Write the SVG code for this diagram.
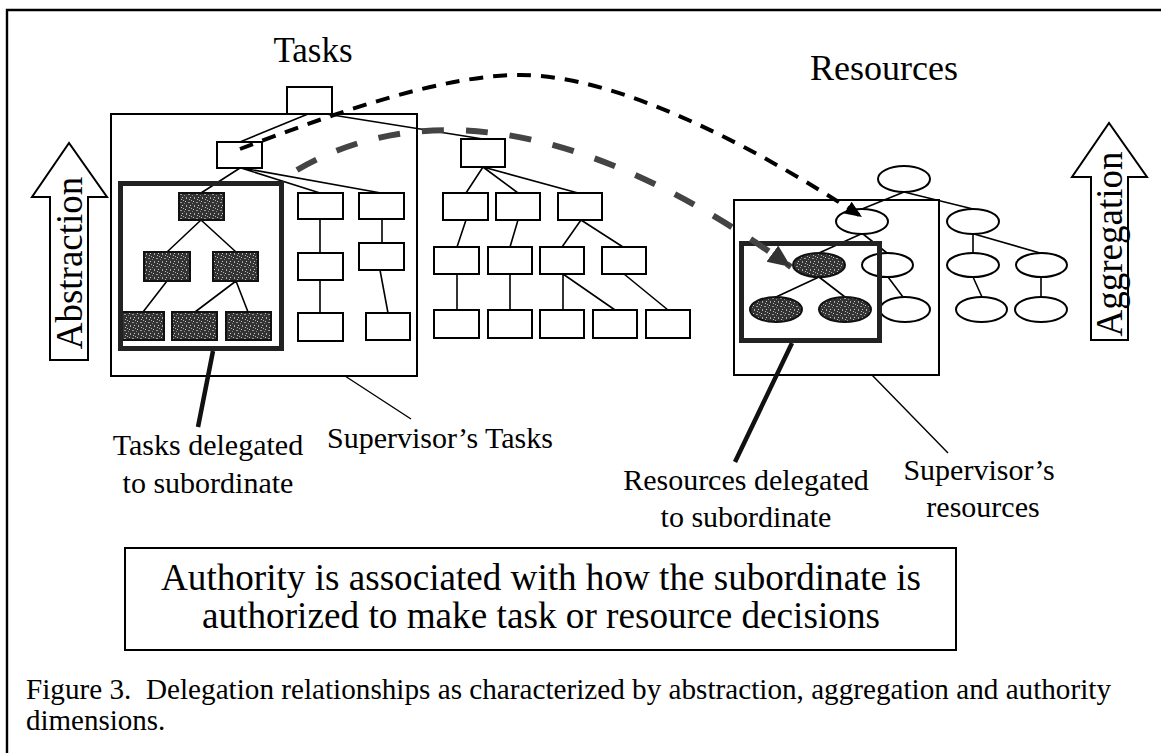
<svg xmlns="http://www.w3.org/2000/svg" width="1161" height="753" viewBox="0 0 1161 753">
<defs>
<style>
.t{font-family:"Liberation Serif","Times New Roman",serif;fill:#000}
.box{fill:#fff;stroke:#000;stroke-width:2}
.cont{fill:none;stroke:#000;stroke-width:2}
.dk{fill:url(#nz);stroke:#111;stroke-width:2}
.frm{fill:none;stroke:#222;stroke-width:5}
.e{stroke:#000;stroke-width:1.6;fill:none}
.lead{stroke:#000;stroke-width:1.4;fill:none}
.leadk{stroke:#111;stroke-width:4.5;fill:none}
</style>
<pattern id="nz" width="8" height="8" patternUnits="userSpaceOnUse">
<rect width="8" height="8" fill="#333"/>
<rect x="1" y="1" width="1" height="1" fill="#c8c8c8"/>
<rect x="4" y="2" width="2" height="1" fill="#9a9a9a"/>
<rect x="6" y="5" width="1" height="1" fill="#d0d0d0"/>
<rect x="2" y="5" width="1" height="2" fill="#a8a8a8"/>
<rect x="5" y="7" width="1" height="1" fill="#bbb"/>
<rect x="0" y="3" width="1" height="1" fill="#888"/>
<rect x="7" y="0" width="1" height="1" fill="#aaa"/>
</pattern>
<marker id="ah1" markerUnits="userSpaceOnUse" markerWidth="18" markerHeight="16" refX="17" refY="8" orient="auto">
<path d="M0,1 L17,8 L0,15 z" fill="#000"/>
</marker>
<marker id="ah2" markerUnits="userSpaceOnUse" markerWidth="24" markerHeight="22" refX="23" refY="11" orient="auto">
<path d="M0,1 L23,11 L0,21 z" fill="#333"/>
</marker>
</defs>
<rect width="1161" height="753" fill="#fff"/>
<g id="outer-frame">
<path d="M7,753 L7,10 L1161,10" fill="none" stroke="#000" stroke-width="2.4"/>
</g>
<g id="titles">
<text class="t" x="313" y="62" font-size="35" text-anchor="middle">Tasks</text>
<text class="t" x="884" y="80" font-size="36" text-anchor="middle">Resources</text>
</g>
<g id="abstraction">
<polygon class="box" points="50,360 50,197 32,197 69,143 107,197 88,197 88,360"/>
<text class="t" font-size="37" text-anchor="middle" transform="translate(82,263) rotate(-90)">Abstraction</text>
</g>
<g id="aggregation">
<polygon class="box" points="1091,340 1091,177 1072,177 1109,123 1147,177 1128,177 1128,340"/>
<text class="t" font-size="37" text-anchor="middle" transform="translate(1122,244) rotate(-90)">Aggregation</text>
</g>
<g id="supervisors-tasks-box"><rect class="cont" x="111" y="114" width="306" height="262"/></g>
<g id="supervisors-resources-box"><rect class="cont" x="734" y="200" width="205" height="175"/></g>
<g id="connectors">
<path class="e" d="M308,114 L240,142 M326,114 L483,139
M240,168 L201,193 M241,168 L320,193 M242,168 L381,193
M201,220 L167,252 M201,220 L236,252 M167,281 L143,312 M236,281 L195,312 M236,281 L248,312
M320,219 L320,253 M320,280 L320,313 M382,219 L382,243 M380,270 L388,313
M483,167 L466,193 M483,167 L518,193 M483,167 L578,193
M466,220 L457,247 M518,220 L510,247 M581,220 L562,247 M581,220 L623,247
M457,274 L457,310 M510,274 L510,310 M563,274 L563,310 M563,274 L615,310 M624,274 L668,310
M904,192 L862,209 M904,192 L973,209 M861,234 L819,253 M863,234 L887,253 M888,277 L903,297
M819,277 L776,297 M819,277 L845,297 M973,234 L973,253 M974,234 L1040,253 M973,277 L982,297 M1041,277 L1041,297"/>
<path class="leadk" d="M213,351 L198,427 M792,343 L735,462"/>
<path class="lead" d="M345,376 L411,419 M872,375 L948,453"/>
</g>
<g id="T0"><rect class="box" x="287" y="87" width="45" height="27"/></g>
<g id="T1"><rect class="box" x="217" y="142" width="45" height="26"/></g>
<g id="D0"><rect class="dk" x="179" y="193" width="45" height="27"/></g>
<g id="D1"><rect class="dk" x="144" y="252" width="46" height="29"/></g>
<g id="D2"><rect class="dk" x="213" y="252" width="45" height="29"/></g>
<g id="D3"><rect class="dk" x="122" y="312" width="42" height="28"/></g>
<g id="D4"><rect class="dk" x="172" y="312" width="45" height="28"/></g>
<g id="D5"><rect class="dk" x="226" y="312" width="45" height="28"/></g>
<g id="S1"><rect class="box" x="298" y="193" width="45" height="26"/></g>
<g id="S2"><rect class="box" x="298" y="253" width="45" height="27"/></g>
<g id="S3"><rect class="box" x="298" y="313" width="45" height="28"/></g>
<g id="S4"><rect class="box" x="359" y="193" width="45" height="26"/></g>
<g id="S5"><rect class="box" x="359" y="243" width="45" height="27"/></g>
<g id="S6"><rect class="box" x="366" y="313" width="44" height="27"/></g>
<g id="M0"><rect class="box" x="461" y="139" width="44" height="28"/></g>
<g id="M1"><rect class="box" x="443" y="193" width="45" height="27"/></g>
<g id="M2"><rect class="box" x="496" y="193" width="44" height="27"/></g>
<g id="M3"><rect class="box" x="558" y="193" width="44" height="27"/></g>
<g id="M4"><rect class="box" x="434" y="247" width="45" height="27"/></g>
<g id="M5"><rect class="box" x="488" y="247" width="44" height="27"/></g>
<g id="M6"><rect class="box" x="540" y="247" width="44" height="27"/></g>
<g id="M7"><rect class="box" x="602" y="247" width="44" height="27"/></g>
<g id="M8"><rect class="box" x="434" y="310" width="45" height="28"/></g>
<g id="M9"><rect class="box" x="488" y="310" width="44" height="28"/></g>
<g id="M10"><rect class="box" x="540" y="310" width="44" height="28"/></g>
<g id="M11"><rect class="box" x="593" y="310" width="44" height="28"/></g>
<g id="M12"><rect class="box" x="646" y="310" width="44" height="28"/></g>
<g id="R0"><ellipse class="box" cx="904" cy="179" rx="26" ry="13"/></g>
<g id="R1"><ellipse class="box" cx="862" cy="221.5" rx="26" ry="12.5"/></g>
<g id="R2"><ellipse class="box" cx="973" cy="221.5" rx="26" ry="12.5"/></g>
<g id="R3"><ellipse class="box" cx="887.5" cy="265" rx="25.5" ry="12"/></g>
<g id="R4"><ellipse class="box" cx="905" cy="309.5" rx="25" ry="12.5"/></g>
<g id="R5"><ellipse class="box" cx="973" cy="265" rx="26" ry="12"/></g>
<g id="R6"><ellipse class="box" cx="1041.5" cy="265" rx="25.5" ry="12"/></g>
<g id="R7"><ellipse class="box" cx="981.5" cy="309.5" rx="25.5" ry="12.5"/></g>
<g id="R8"><ellipse class="box" cx="1041" cy="309.5" rx="26" ry="12.5"/></g>
<g id="RD0"><ellipse class="dk" cx="819" cy="265" rx="26" ry="12"/></g>
<g id="RD1"><ellipse class="dk" cx="776" cy="309.5" rx="26" ry="12.5"/></g>
<g id="RD2"><ellipse class="dk" cx="845" cy="309.5" rx="26" ry="12.5"/></g>
<g id="delegated-tasks-frame"><rect class="frm" x="120.5" y="183.5" width="161" height="165"/></g>
<g id="delegated-resources-frame"><rect class="frm" x="741.5" y="243.5" width="138" height="97"/></g>
<g id="delegation-arrows">
<path d="M240,149 C330,115 440,75 520,75 C620,75 760,150 862,217" fill="none" stroke="#000" stroke-width="4" stroke-dasharray="14 10" marker-end="url(#ah1)"/>
<path d="M297,170 C400,110 560,100 791,267" fill="none" stroke="#444" stroke-width="6" stroke-dasharray="22 22" marker-end="url(#ah2)"/>
</g>
<g id="labels">
<text class="t" font-size="30" text-anchor="middle" x="208" y="455">Tasks delegated</text>
<text class="t" font-size="30" text-anchor="middle" x="208" y="493">to subordinate</text>
<text class="t" font-size="30" x="327" y="448">Supervisor’s Tasks</text>
<text class="t" font-size="30" text-anchor="middle" x="746" y="490">Resources delegated</text>
<text class="t" font-size="30" text-anchor="middle" x="746" y="527">to subordinate</text>
<text class="t" font-size="30" text-anchor="middle" x="979" y="480">Supervisor’s</text>
<text class="t" font-size="30" text-anchor="middle" x="983" y="517">resources</text>
</g>
<g id="authority">
<rect class="cont" x="125" y="548" width="831" height="102"/>
<text class="t" font-size="37" text-anchor="middle" x="541" y="590" textLength="760" lengthAdjust="spacingAndGlyphs">Authority is associated with how the subordinate is</text>
<text class="t" font-size="37" text-anchor="middle" x="541" y="628" textLength="678" lengthAdjust="spacingAndGlyphs">authorized to make task or resource decisions</text>
</g>
<g id="caption">
<text class="t" font-size="29" x="26" y="699" textLength="1085" lengthAdjust="spacingAndGlyphs" xml:space="preserve">Figure 3.  Delegation relationships as characterized by abstraction, aggregation and authority</text>
<text class="t" font-size="29" x="26" y="730">dimensions.</text>
</g>
</svg>
